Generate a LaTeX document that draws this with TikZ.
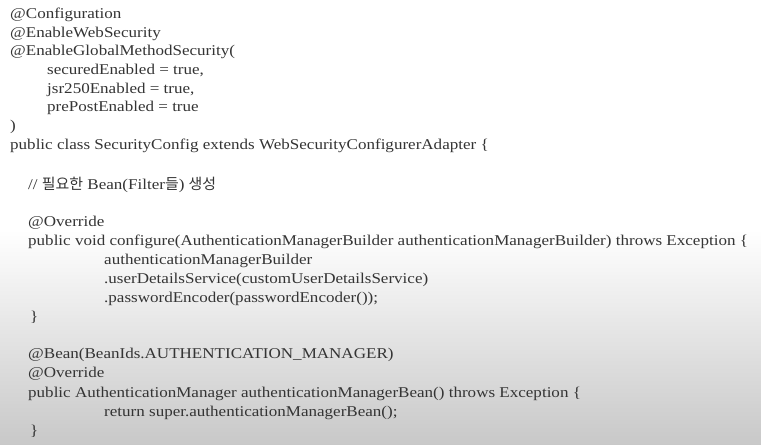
\documentclass[tikz,border=0pt]{standalone}
\usepackage{fontspec}
\setmainfont{Liberation Serif}[FakeStretch=1.14]
\newfontfamily\kofont{Noto Sans CJK KR}
\definecolor{codegray}{RGB}{52,52,52}
\definecolor{shadegray}{RGB}{200,200,200}
\tikzset{
  codeline/.style={anchor=base west, inner sep=0pt, text=codegray, font=\fontsize{15}{18}\selectfont}
}
\begin{document}
\begin{tikzpicture}[x=1bp, y=-1bp]
  \useasboundingbox (0,0) rectangle (761,445);
  \fill[white] (0,0) rectangle (761,230);
  \shade[top color=white, bottom color=shadegray] (0,230) rectangle (761,445);
  % annotations
  \node[codeline] (conf) at (10,19) {@Configuration};
  \node[codeline] (web) at (10,38) {@EnableWebSecurity};
  \node[codeline] (global) at (10,56) {@EnableGlobalMethodSecurity(};
  \node[codeline] (secured) at (47,75) {securedEnabled = true,};
  \node[codeline] (jsr) at (47,94) {jsr250Enabled = true,};
  \node[codeline] (prepost) at (47,112) {prePostEnabled = true};
  \node[codeline] (close) at (10,131) {)};
  \node[codeline] (cls) at (10,150) {public class SecurityConfig extends WebSecurityConfigurerAdapter \{};
  % comment
  \node[codeline] (comment) at (28,190) {// {\kofont 필요한} Bean(Filter{\kofont 들}) {\kofont 생성}};
  % configure
  \node[codeline] (over1) at (28,227) {@Override};
  \node[codeline] (configure) at (28,246) {public void configure(AuthenticationManagerBuilder authenticationManagerBuilder) throws Exception \{};
  \node[codeline] (builder) at (104,265) {authenticationManagerBuilder};
  \node[codeline] (details) at (104,284) {.userDetailsService(customUserDetailsService)};
  \node[codeline] (encoder) at (104,303) {.passwordEncoder(passwordEncoder());};
  \node[codeline] (end1) at (30,322) {\}};
  % bean
  \node[codeline] (bean) at (28,359) {@Bean(BeanIds.AUTHENTICATION\_MANAGER)};
  \node[codeline] (over2) at (28,378) {@Override};
  \node[codeline] (manager) at (28,397) {public AuthenticationManager authenticationManagerBean() throws Exception \{};
  \node[codeline] (ret) at (104,416) {return super.authenticationManagerBean();};
  \node[codeline] (end2) at (30,435) {\}};
\end{tikzpicture}
\end{document}
